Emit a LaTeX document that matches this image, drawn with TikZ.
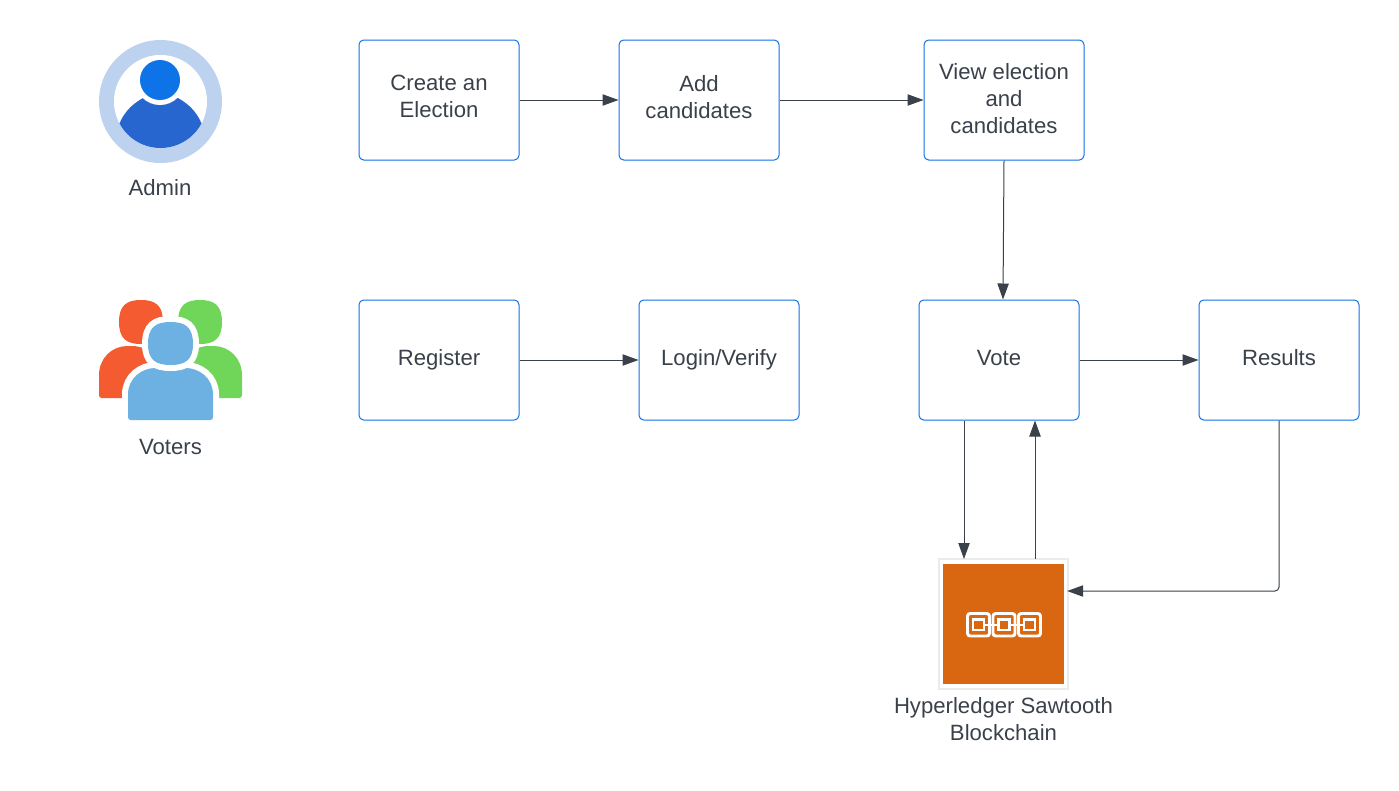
\documentclass[tikz,border=0pt]{standalone}
\usepackage{fontspec}
\setmainfont{Liberation Sans}
\usepackage{tikz}
\usetikzlibrary{positioning, calc, arrows.meta}
\definecolor{inkgray}{HTML}{3A414A}
\definecolor{boxblue}{HTML}{1071E5}
\definecolor{ringblue}{HTML}{BCD2EF}
\definecolor{headblue}{HTML}{0E73E6}
\definecolor{bodyblue}{HTML}{2766CF}
\definecolor{voterred}{HTML}{F45B30}
\definecolor{votergreen}{HTML}{70D65A}
\definecolor{voterblue}{HTML}{6DB1E2}
\definecolor{chainorange}{HTML}{D96712}
\newcommand{\lift}[1]{\rule[-#1]{0pt}{#1}}
\tikzset{stepbox/.style={draw=boxblue, line width=.75pt, rounded corners=3.5pt, fill=white, minimum width=120pt, minimum height=90pt, align=center, text=inkgray, inner sep=0pt, font=\fontsize{16.6}{20.25}\selectfont}}
\tikzset{caption/.style={align=center, text=inkgray, inner sep=0pt, font=\fontsize{16.6}{20.25}\selectfont}}
\tikzset{flow/.style={draw=inkgray, line width=.75pt, -{Triangle[length=12pt, width=8.5pt]}}}
\tikzset{link/.style={draw=white, line width=2.2pt, rounded corners=2pt}}
\tikzset{halo/.style={preaction={draw=white, line width=9pt}}}

\begin{document}
\begin{tikzpicture}[x=.75pt, y=-.75pt]
      \useasboundingbox (0,0) rectangle (1399,790);

      % STEPS

      \node[stepbox] (create) at (439,100) {Create an\\Election\lift{5pt}};
      \node[stepbox] (add) at (699,100) {Add\\candidates\lift{5pt}};
      \node[stepbox] (view) at (1004,100) {View election\\and\\candidates\lift{2pt}};
      \node[stepbox] (register) at (439,360) {Register\lift{3.6pt}};
      \node[stepbox] (login) at (719,360) {Login/Verify\lift{3.6pt}};
      \node[stepbox] (vote) at (999,360) {Vote\lift{3.6pt}};
      \node[stepbox] (results) at (1279,360) {Results\lift{3.6pt}};

      % BLOCKCHAIN

      \node[draw=black!8, line width=1.5pt, fill=white, minimum width=97pt, minimum height=97.5pt, inner sep=0pt] (chain) at (1003.5,624) {};
      \fill[chainorange] (943,564) rectangle (1064,684);
      \foreach \cx in {978.5,1004,1029.5} {
        \draw[link] (\cx-11,613.5) rectangle (\cx+11,636);
        \draw[draw=white, line width=1.8pt] (\cx-5.5,619.5) rectangle (\cx+5.5,630);
      }
      \draw[draw=white, line width=1.8pt] (984,624.7) -- (998.5,624.7);
      \draw[draw=white, line width=1.8pt] (1009.5,624.7) -- (1024,624.7);

      % ADMIN

      \fill[ringblue] (160.5,101.5) circle (61.5);
      \fill[white] (160.5,101.5) circle (46.5);
      \begin{scope}
        \clip (160.5,101.5) circle (46.5);
        \fill[bodyblue] (116,133) .. controls (122,113) and (131,105) .. (143,98) -- (178,98) .. controls (190,105) and (199,113) .. (205,133) -- (205,150) -- (116,150) -- cycle;
      \end{scope}
      \fill[white] (160,80) circle (25);
      \fill[headblue] (160,80) circle (20);

      % VOTERS

      \fill[voterred] (119,322) .. controls (119,305) and (127,300) .. (141,300) .. controls (155,300) and (163,305) .. (163,322) .. controls (163,339) and (155,344) .. (141,344) .. controls (127,344) and (119,339) .. (119,322) -- cycle;
      \fill[voterred, rounded corners=2pt] (99,398) -- (99,378) .. controls (99,358) and (112,346) .. (130,346) .. controls (142,346) and (155,352) .. (160,365) -- (160,398) -- cycle;
      \fill[votergreen] (178,322) .. controls (178,305) and (186,300) .. (200,300) .. controls (214,300) and (222,305) .. (222,322) .. controls (222,339) and (214,344) .. (200,344) .. controls (186,344) and (178,339) .. (178,322) -- cycle;
      \fill[votergreen, rounded corners=2pt] (242,398) -- (242,378) .. controls (242,358) and (229,346) .. (211,346) .. controls (199,346) and (186,352) .. (181,365) -- (181,398) -- cycle;
      \fill[voterblue, rounded corners=2pt, halo] (128,420) -- (128,397) .. controls (128,378) and (142,368) .. (158,368) -- (183,368) .. controls (199,368) and (213,378) .. (213,397) -- (213,420) -- cycle;
      \fill[voterblue, halo] (148,344) .. controls (148,327) and (156,322) .. (170.5,322) .. controls (185,322) and (193,327) .. (193,344) .. controls (193,360) and (185,365) .. (170.5,365) .. controls (156,365) and (148,360) .. (148,344) -- cycle;

      % LABELS

      \node[caption] (adminLabel) at (160,188) {Admin};
      \node[caption] (votersLabel) at (170.5,447) {Voters};
      \node[caption] (chainLabel) at (1003.5,719) {Hyperledger Sawtooth\\Blockchain};

      % ARCS

      \draw[flow] (create.east) -- (add.west);
      \draw[flow] (add.east) -- (view.west);
      \draw[flow] (view.south) -- ($(vote.north)+(4,0)$);
      \draw[flow] (register.east) -- (login.west);
      \draw[flow] (vote.east) -- (results.west);
      \draw[flow] ($(vote.south)-(35,0)$) -- ($(chain.north)+(-39.5,1)$);
      \draw[flow] ($(chain.north)+(31.5,1)$) -- ($(vote.south)+(36,0)$);
      \draw[flow, rounded corners=3pt] (results.south) |- ($(chain.east)-(2,33)$);
    \end{tikzpicture}
\end{document}
